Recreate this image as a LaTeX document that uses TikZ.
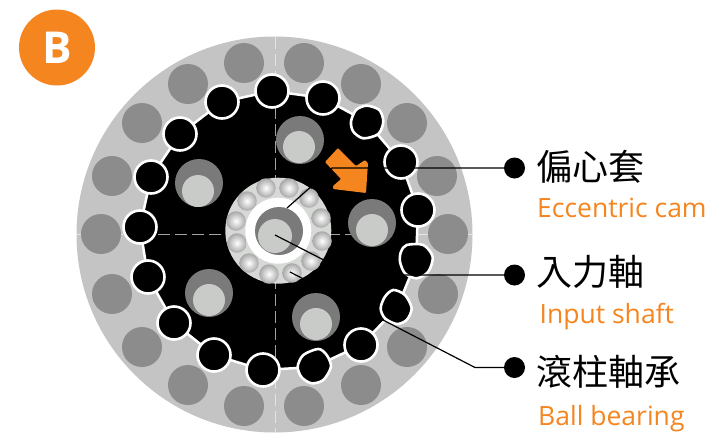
\documentclass[tikz,border=0pt]{standalone}
\usepackage{fontspec}
\setmainfont{Open Sans}
\newfontfamily\cjkf{Noto Sans CJK TC}
\definecolor{orng}{HTML}{F5851F}
\definecolor{ringg}{HTML}{C4C4C4}
\definecolor{pad}{HTML}{8C8C8C}
\definecolor{camd}{HTML}{7A7A7A}
\definecolor{caml}{HTML}{C9CBC9}
\definecolor{brg}{HTML}{D6D9D6}
\tikzset{
  x=1pt,y=-1pt,
  padc/.style={circle,fill=pad,minimum size=40pt,inner sep=0},
  rollerc/.style={circle,fill=black,draw=white,line width=2.6pt,minimum size=33pt,inner sep=0},
  rollerp/.style={fill=black,draw=white,line width=2.6pt},
  ballc/.style={circle,inner sep=0,minimum size=19.5pt,inner color=white,outer color=black!34},
  dotc/.style={circle,fill=black,minimum size=21pt,inner sep=0},
  cjkl/.style={font=\cjkf\fontsize{36}{40}\selectfont,anchor=west,inner sep=0},
  enl/.style={font=\fontsize{26.5}{30}\selectfont,text=orng,anchor=base west,inner sep=0},
  leader/.style={draw=black,line width=1.2pt}
}
\begin{document}
\begin{tikzpicture}
\useasboundingbox (0,0) rectangle (713,437);
\fill[white] (0,0) rectangle (713,437);
% badge
\node[circle,fill=orng,minimum size=76pt,inner sep=0,text=white,font=\bfseries\fontsize{44}{46}\selectfont] (badge) at (57,47.5) {B};
% outer ring
\node[circle,fill=ringg,minimum size=396pt,inner sep=0] (disc) at (274.5,234.5) {};
\draw[white!55!ringg,line width=1pt,dash pattern=on 12pt off 5pt] (275,37) -- (275,432) (77,234) -- (472,234);
\foreach \n/\x/\y in {p1/304/63,p2/361/84,p3/407/123,p4/437/176,p5/448/234,p6/438/294,p7/407/347,p8/361/385,p9/304/406,p10/244/406,p11/188/385,p12/142/347,p13/112/294,p14/101/234,p15/112/176,p16/142/123,p17/188/84,p18/244/63}
  \node[padc] (\n) at (\x,\y) {};
% rollers positions
\foreach \n/\x/\y in {r1/272/91,r2/323/98,r3/367/122,r4/401/162,r5/418/210,r6/416/262,r7/397/308,r8/361/345,r9/314/367,r10/263/370,r11/214/355,r12/174/323,r13/148/277,r14/140/227,r15/151/177,r16/180/134,r17/222/102}
  \coordinate (\n) at (\x,\y);
% cycloid disc
\filldraw[fill=black,draw=white,line width=2.5pt,line join=round] (r1)--(r2)--(r3)--(r4)--(r5)--(r6)--(r7)--(r8)--(r9)--(r10)--(r11)--(r12)--(r13)--(r14)--(r15)--(r16)--(r17)--cycle;
\draw[pad!80!white,line width=1pt,dash pattern=on 12pt off 5pt] (275,107) -- (275,360) (158,234.5) -- (395,234.5);
% cam holes
\foreach \n/\x/\y/\u/\v in {h1/199/183/198/191,h2/300/140/299/147,h3/372/223/372/230,h4/209/293/209/300,h5/316/317/316/324}{
  \node[circle,fill=camd,minimum size=48pt,inner sep=0] (\n) at (\x,\y) {};
  \node[circle,fill=caml,minimum size=32pt,inner sep=0] (\n i) at (\u,\v) {};
}
% bearing
\node[circle,fill=brg,minimum size=106pt,inner sep=0] (brg) at (278.3,230.7) {};
\foreach \n/\x/\y in {b1/266/188,b2/289/188,b3/309/198,b4/321/218,b5/322/241,b6/311/261,b7/292/273,b8/269/274,b9/249/263,b10/237/243,b11/236/221,b12/247/201}
  \node[ballc] (\n) at (\x,\y) {};
\node[circle,fill=white,minimum size=66pt,inner sep=0] (wr) at (278.3,230.7) {};
\node[circle,fill=camd,minimum size=48pt,inner sep=0] (ec) at (279,231) {};
\node[circle,fill=caml,minimum size=34pt,inner sep=0] (sh) at (275,236) {};
% orange arrow
\fill[orng,rounded corners=1pt] (338,148) -- (356,166) -- (365,160) -- (368,163) -- (366,193) -- (333,189) -- (333,186) -- (341,179) -- (325,162) -- cycle;
% rollers
\foreach \n in {r1,r2,r4,r5,r8,r10,r11,r12,r13,r14,r15,r16,r17}
  \node[rollerc] at (\n) {};
\begin{scope}[shift={(270,60)},x=0.3333pt,y=-0.3333pt]
  \draw[rollerp] plot[smooth cycle] coordinates {(290,137)(328,150)(340,185)(325,222)(280,235)(250,215)(243,185)(258,150)};
\end{scope}
\begin{scope}[shift={(270,240)},x=0.3333pt,y=-0.3333pt]
  \draw[rollerp] plot[smooth cycle] coordinates {(410,15)(460,15)(488,50)(475,95)(440,115)(405,100)(390,65)(393,35)};
  \draw[rollerp] plot[smooth cycle] coordinates {(370,150)(405,165)(425,205)(410,240)(380,252)(345,235)(332,205)(345,170)};
  \draw[rollerp] plot[smooth cycle] coordinates {(145,327)(170,345)(183,380)(160,420)(125,430)(95,412)(83,380)(100,345)};
\end{scope}
% labels
\node[dotc] (d1) at (514.5,168) {};
\node[dotc] (d2) at (514.5,275) {};
\node[dotc] (d3) at (514.5,367.5) {};
\coordinate (c1) at (332,168); \coordinate (c1e) at (287,208);
\coordinate (c2) at (353,275); \coordinate (c2e) at (275,235);
\coordinate (c3) at (475,367.5); \coordinate (c3e) at (290,272);
\draw[leader] (d1) -- (c1) -- (c1e);
\draw[leader] (d2) -- (c2) -- (c2e);
\draw[leader] (d3) -- (c3) -- (c3e);
\node[cjkl] (t1) at (536,167) {偏心套};
\node[cjkl] (t2) at (536,272) {入力軸};
\node[cjkl] (t3) at (536,372) {滾柱軸承};
\node[enl] (e1) at (537,217.3) {Eccentric cam};
\node[enl] (e2) at (539.5,323) {Input shaft};
\node[enl] (e3) at (538,425.7) {Ball bearing};
\end{tikzpicture}
\end{document}
